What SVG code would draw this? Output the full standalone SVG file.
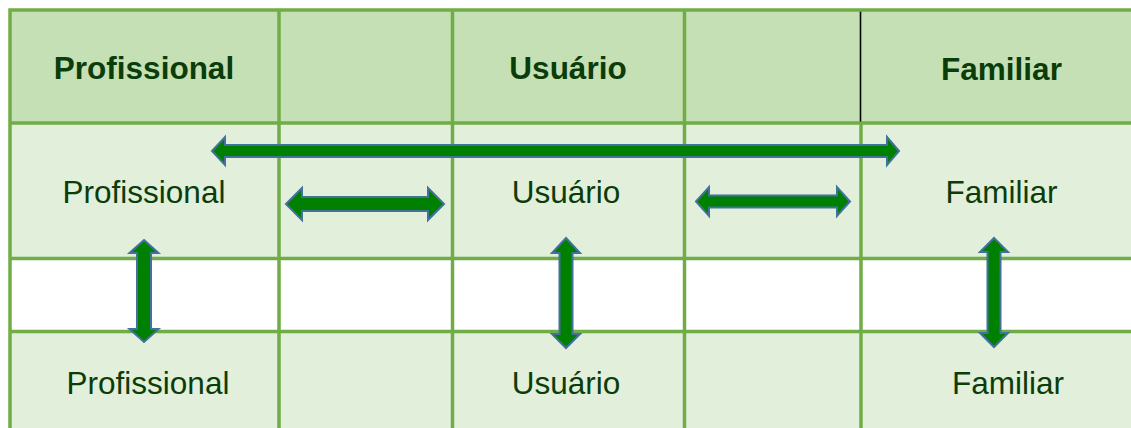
<svg xmlns="http://www.w3.org/2000/svg" width="1131" height="428" viewBox="0 0 1131 428">
<style>
.hdr{fill:#C5E0B4}
.body{fill:#E2EFDA}
.grid{stroke:#70AD47;stroke-width:3.5;fill:none}
.t{font-family:"Liberation Sans",Arial,sans-serif;font-size:31.5px;fill:#0B3D0B;text-anchor:middle}
.b{font-weight:bold}
.arr{fill:#008000;stroke:#41719C;stroke-width:2;stroke-linejoin:miter}
</style>
<rect width="1131" height="428" fill="#FFFFFF"/>
<g id="table">
<rect class="hdr" x="10" y="10" width="1121" height="113"/>
<rect class="body" x="10" y="123" width="1121" height="135.5"/>
<rect class="body" x="10" y="331.5" width="1121" height="96.5"/>
<path class="grid" d="M8.3 10H1131M10 8.3V428M8.3 123H1131M8.3 258.5H1131M8.3 331.5H1131M279 10V428M452.5 10V428M684.5 10V428M861 121.3V428"/>
<line x1="860.5" y1="11.7" x2="860.5" y2="121.5" stroke="#000000" stroke-width="1.6"/>
</g>
<g id="header-profissional"><text class="t b" x="144" y="78.5">Profissional</text></g>
<g id="header-usuario"><text class="t b" x="568" y="79">Usuário</text></g>
<g id="header-familiar"><text class="t b" x="1001.5" y="79.5">Familiar</text></g>
<g id="profissional-1"><text class="t" x="144" y="203">Profissional</text></g>
<g id="usuario-1"><text class="t" x="566" y="203">Usuário</text></g>
<g id="familiar-1"><text class="t" x="1001.5" y="203">Familiar</text></g>
<g id="profissional-2"><text class="t" x="148" y="394">Profissional</text></g>
<g id="usuario-2"><text class="t" x="566" y="394">Usuário</text></g>
<g id="familiar-2"><text class="t" x="1008" y="393.5">Familiar</text></g>
<g id="connectors">
<polygon class="arr" points="212,151 225,137 225,145 887,145 887,137 899,151 887,165 887,157 225,157 225,165"/>
<polygon class="arr" points="286,204 302,188 302,197 428,197 428,188 444,204 428,220 428,211 302,211 302,220"/>
<polygon class="arr" points="696,201.5 709,187 709,195.5 837,195.5 837,187 850,201.5 837,216 837,207.5 709,207.5 709,216"/>
<polygon class="arr" points="144,240 158.5,253 151,253 151,329 158.5,329 144,342 129.5,329 137,329 137,253 129.5,253"/>
<polygon class="arr" points="566,238 580,253 572.5,253 572.5,334 580,334 566,348 552,334 559.5,334 559.5,253 552,253"/>
<polygon class="arr" points="994,238 1008,252 1000.5,252 1000.5,333 1008,333 994,347 980,333 987.5,333 987.5,252 980,252"/>
</g>
</svg>
